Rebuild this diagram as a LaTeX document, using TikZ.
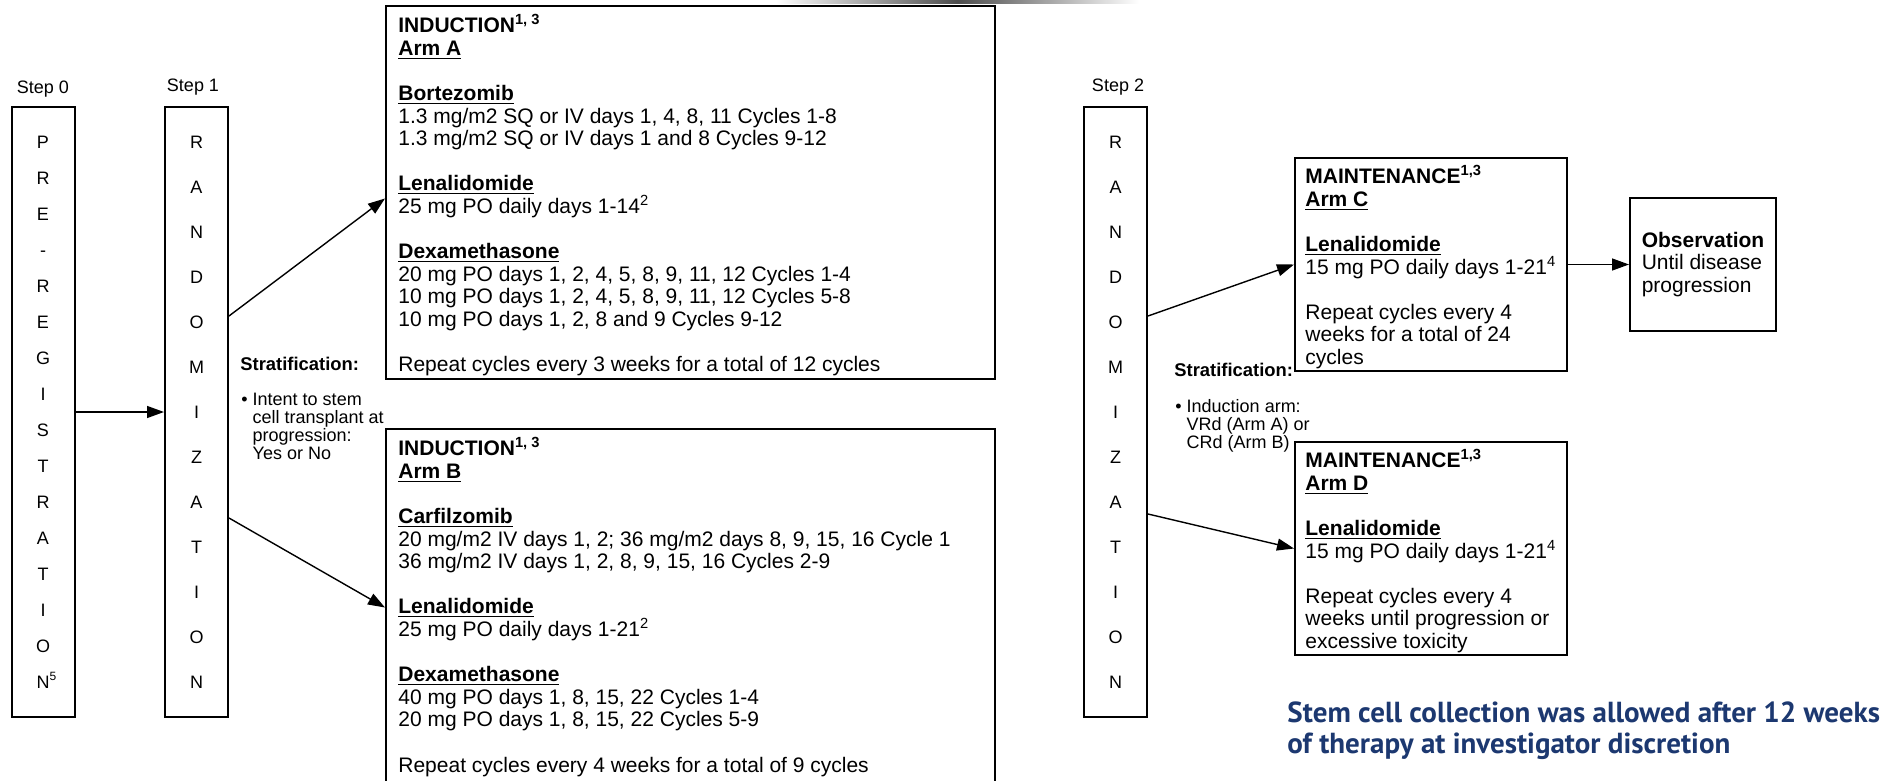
\documentclass[tikz,border=0pt]{standalone}
\usepackage{fontspec}
\setmainfont{Liberation Sans}
\newfontfamily\notefont{PT Sans}
\usepackage{xcolor}
\usetikzlibrary{positioning, arrows.meta, calc}
\definecolor{notenavy}{RGB}{28,56,112}

\begin{document}
\begin{tikzpicture}[
  x=0.5pt, y=-0.5pt,
  font=\fontsize{9}{9}\selectfont,
  stepbox/.style={draw, line width=1pt, minimum width=31.5pt, minimum height=305pt,
                  inner sep=0pt, align=center},
  steplabel/.style={inner sep=0pt, font=\fontsize{9}{9}\selectfont},
  armbox/.style={draw, line width=1pt, inner sep=0pt},
  armtext/.style={anchor=north west, align=left, inner xsep=6.5pt, inner ysep=4.5pt,
                  font=\fontsize{10.5}{11.3}\selectfont},
  strat/.style={inner sep=0pt, align=left, font=\fontsize{9}{9}\selectfont},
  note/.style={inner sep=0pt, align=left, text=notenavy,
               font=\notefont\bfseries\fontsize{14.5}{15.5}\selectfont},
  arrow/.style={-{Triangle[length=8.5pt, width=6pt]}, line width=0.7pt},
]
\useasboundingbox (0,0) rectangle (1900,781);
\clip (0,0) rectangle (1900,781);
\shade[left color=white, right color=white, middle color=black!70] (776,0) rectangle (1139,4);

\node[steplabel] (step0) at (43,89) {Step 0};
\node[steplabel] (step1) at (193,87) {Step 1};
\node[steplabel] (step2) at (1118,87) {Step 2};

\node[stepbox, font=\fontsize{9}{18}\selectfont] (prereg) at (43,412)
  {P\\R\\E\\-\\R\\E\\G\\I\\S\\T\\R\\A\\T\\I\\O\\N\rlap{\textsuperscript{5}}};
\node[stepbox, font=\fontsize{9}{22.5}\selectfont] (randa) at (196.5,412)
  {R\\A\\N\\D\\O\\M\\I\\Z\\A\\T\\I\\O\\N};
\node[stepbox, font=\fontsize{9}{22.5}\selectfont] (randb) at (1115.5,412)
  {R\\A\\N\\D\\O\\M\\I\\Z\\A\\T\\I\\O\\N};

\node[strat, anchor=west, font=\fontsize{9.2}{9.2}\selectfont] (strata) at (240,364) {\textbf{Stratification:}};
\node[strat, anchor=north west] (stratalist) at (241,393)
  {\textbullet~Intent to stem\\\hphantom{\textbullet~}cell transplant at\\\hphantom{\textbullet~}progression:\\\hphantom{\textbullet~}Yes or No};
\node[strat, anchor=west, font=\fontsize{9.2}{9.2}\selectfont] (stratb) at (1174,370) {\textbf{Stratification:}};
\node[strat, anchor=north west] (stratblist) at (1175,399)
  {\textbullet~Induction arm:\\\hphantom{\textbullet~}VRd (Arm A) or\\\hphantom{\textbullet~}CRd (Arm B)};

\node[armbox, minimum width=304.5pt, minimum height=186.5pt] (inda) at (690.5,192.5) {};
\node[armtext] (indatext) at (inda.north west)
  {\textbf{INDUCTION\textsuperscript{1, 3}}\\
   \textbf{\underline{Arm A}}\\[\baselineskip]
   \textbf{\underline{Bortezomib}}\\
   1.3 mg/m2 SQ or IV days 1, 4, 8, 11 Cycles 1-8\\
   1.3 mg/m2 SQ or IV days 1 and 8 Cycles 9-12\\[\baselineskip]
   \textbf{\underline{Lenalidomide}}\\
   25 mg PO daily days 1-14\textsuperscript{2}\\[\baselineskip]
   \textbf{\underline{Dexamethasone}}\\
   20 mg PO days 1, 2, 4, 5, 8, 9, 11, 12 Cycles 1-4\\
   10 mg PO days 1, 2, 4, 5, 8, 9, 11, 12 Cycles 5-8\\
   10 mg PO days 1, 2, 8 and 9 Cycles 9-12\\[\baselineskip]
   Repeat cycles every 3 weeks for a total of 12 cycles};

\node[armbox, minimum width=304.5pt, minimum height=186.5pt] (indb) at (690.5,615.5) {};
\node[armtext] (indbtext) at (indb.north west)
  {\textbf{INDUCTION\textsuperscript{1, 3}}\\
   \textbf{\underline{Arm B}}\\[\baselineskip]
   \textbf{\underline{Carfilzomib}}\\
   20 mg/m2 IV days 1, 2; 36 mg/m2 days 8, 9, 15, 16 Cycle 1\\
   36 mg/m2 IV days 1, 2, 8, 9, 15, 16 Cycles 2-9\\[\baselineskip]
   \textbf{\underline{Lenalidomide}}\\
   25 mg PO daily days 1-21\textsuperscript{2}\\[\baselineskip]
   \textbf{\underline{Dexamethasone}}\\
   40 mg PO days 1, 8, 15, 22 Cycles 1-4\\
   20 mg PO days 1, 8, 15, 22 Cycles 5-9\\[\baselineskip]
   Repeat cycles every 4 weeks for a total of 9 cycles};

\node[armbox, minimum width=136pt, minimum height=106.5pt] (mc) at (1431,264.5) {};
\node[armtext, inner ysep=4pt, inner xsep=5.5pt] (mctext) at (mc.north west)
  {\textbf{MAINTENANCE\textsuperscript{1,3}}\\
   \textbf{\underline{Arm C}}\\[\baselineskip]
   \textbf{\underline{Lenalidomide}}\\
   15 mg PO daily days 1-21\textsuperscript{4}\\[\baselineskip]
   Repeat cycles every 4\\
   weeks for a total of 24\\
   cycles};

\node[armbox, minimum width=136pt, minimum height=106.5pt] (md) at (1431,548.5) {};
\node[armtext, inner ysep=4pt, inner xsep=5.5pt] (mdtext) at (md.north west)
  {\textbf{MAINTENANCE\textsuperscript{1,3}}\\
   \textbf{\underline{Arm D}}\\[\baselineskip]
   \textbf{\underline{Lenalidomide}}\\
   15 mg PO daily days 1-21\textsuperscript{4}\\[\baselineskip]
   Repeat cycles every 4\\
   weeks until progression or\\
   excessive toxicity};

\node[armbox, minimum width=73pt, minimum height=66.5pt, inner xsep=5pt, align=left,
      font=\fontsize{10.5}{11.3}\selectfont] (obs) at (1703,264.5)
  {\textbf{Observation}\\Until disease\\progression};

\node[note, anchor=west] (stemnote) at (1287,730.5)
  {Stem cell collection was allowed after 12 weeks\\of therapy at investigator discretion};

\draw[arrow] (prereg.east) -- (randa.west);
\draw[arrow] ([yshift=48pt]randa.east) -- ([yshift=-3pt]inda.west);
\draw[arrow] ([yshift=-53pt]randa.east) -- ([yshift=4pt]indb.west);
\draw[arrow] ([yshift=48pt]randb.east) -- (mc.west);
\draw[arrow] ([yshift=-51pt]randb.east) -- (md.west);
\draw[arrow] (mc.east) -- (obs.west);
\end{tikzpicture}
\end{document}
